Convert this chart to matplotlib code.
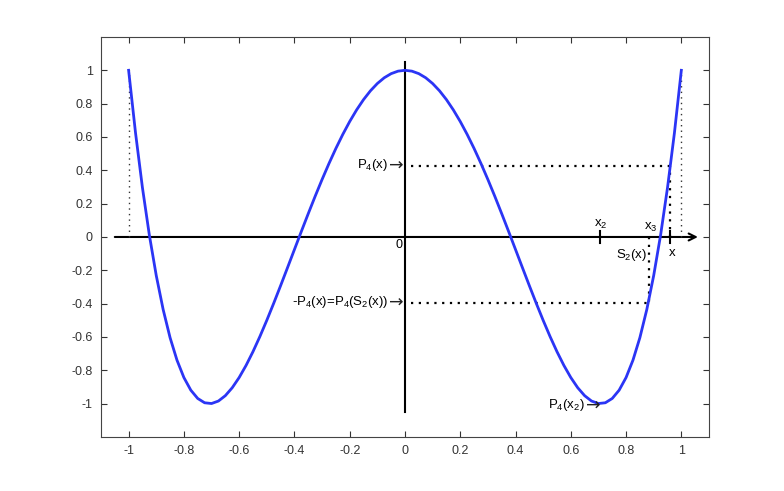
import numpy as np
import matplotlib
matplotlib.use('Agg')
import matplotlib.pyplot as plt

plt.rcParams['font.family'] = ['Liberation Sans', 'DejaVu Sans']
plt.rcParams['mathtext.default'] = 'regular'

# curve P4(x), x from -1 to 1 step 0.025
x_vals = np.linspace(-1, 1, 81)
p4_vals = [
    1.0, 0.6245, 0.2961, 0.0118, -0.2312, -0.4355, -0.6040, -0.7390, -0.8432,
    -0.9190, -0.9688, -0.9947, -0.9992, -0.9843, -0.9520, -0.9043, -0.8432,
    -0.7705, -0.6880, -0.5972, -0.5, -0.3977, -0.2920, -0.1840, -0.0752,
    0.0332, 0.1400, 0.2443, 0.3448, 0.4408, 0.5313, 0.6155, 0.6928, 0.7625,
    0.8241, 0.8770, 0.9208, 0.9553, 0.9800, 0.9950, 1.0,
    0.9950, 0.9800, 0.9553, 0.9208, 0.8770, 0.8241, 0.7625, 0.6928, 0.6155,
    0.5313, 0.4408, 0.3448, 0.2443, 0.1400, 0.0332, -0.0752, -0.1840, -0.2920,
    -0.3977, -0.5, -0.5972, -0.6880, -0.7705, -0.8432, -0.9043, -0.9520,
    -0.9843, -0.9992, -0.9947, -0.9688, -0.9190, -0.8432, -0.7390, -0.6040,
    -0.4355, -0.2312, 0.0118, 0.2961, 0.6245, 1.0,
]

# marked points
x_pt = 0.96
p4_at_x = 0.425
s2_pt = 0.882
p4_at_s2 = -0.395
x2_pt = 0.707
x3_pt = 0.891

ticks = [-1, -0.8, -0.6, -0.4, -0.2, 0, 0.2, 0.4, 0.6, 0.8, 1]
tick_labels = ['-1', '-0.8', '-0.6', '-0.4', '-0.2', '0', '0.2', '0.4', '0.6', '0.8', '1']

fig = plt.figure(figsize=(7.84, 4.91), dpi=100)
ax = fig.add_axes([0.1288, 0.110, 0.7755, 0.8147])

# axes lines
ax.plot([0, 0], [-1.05, 1.05], color='black', lw=1.5, zorder=2)
ax.annotate('', xy=(1.06, 0), xytext=(-1.05, 0),
            arrowprops=dict(arrowstyle='->,head_length=0.5,head_width=0.25', lw=1.5, color='black',
                            shrinkA=0, shrinkB=0), zorder=2)
for xt in [x2_pt, x_pt]:
    ax.plot([xt, xt], [-0.035, 0.035], color='black', lw=1.5, zorder=2)

# dotted guides
dot_thin = dict(color='#333333', lw=1.0, linestyle=(0, (1, 3)))
dot_thick = dict(color='black', lw=1.6, linestyle=(0, (1, 2.5)))
ax.plot([-1, -1], [0, 1], **dot_thin)
ax.plot([1, 1], [0, 1], **dot_thin)
ax.plot([0.02, x_pt], [p4_at_x, p4_at_x], **dot_thick)
ax.plot([x_pt, x_pt], [0, p4_at_x], **dot_thick)
ax.plot([0.02, s2_pt], [p4_at_s2, p4_at_s2], **dot_thick)
ax.plot([s2_pt, s2_pt], [0, p4_at_s2], **dot_thick)

# curve
ax.plot(x_vals, p4_vals, color='#2B35F5', lw=2.0, zorder=3)

# labels
fs = 9
lfs = 9.5


def arrow_label(x, y, label):
    # arrow glyph ending at (x, y), label to its left
    ax.text(x, y, '\u2192', ha='right', va='center', fontsize=12.5,
            family='DejaVu Sans', color='#222222')
    ax.annotate(label, xy=(x, y), xytext=(-11, 0.5), textcoords='offset points',
                ha='right', va='center', fontsize=lfs)


arrow_label(-0.005, p4_at_x, 'P$_4$(x)')
arrow_label(-0.005, p4_at_s2, '-P$_4$(x)=P$_4$(S$_2$(x))')
arrow_label(x2_pt, -1.015, 'P$_4$(x$_2$)')
ax.text(-0.022, -0.015, '0', ha='center', va='top', fontsize=fs)
ax.text(x2_pt, 0.035, 'x$_2$', ha='center', va='bottom', fontsize=lfs)
ax.text(x3_pt, 0.015, 'x$_3$', ha='center', va='bottom', fontsize=lfs)
ax.text(s2_pt - 0.005, -0.06, 'S$_2$(x)', ha='right', va='top', fontsize=lfs)
ax.text(x_pt + 0.005, -0.06, 'x', ha='center', va='top', fontsize=lfs)

ax.set_xlim(-1.1, 1.1)
ax.set_ylim(-1.2, 1.2)
ax.set_xticks(ticks)
ax.set_xticklabels(tick_labels)
ax.set_yticks(ticks)
ax.set_yticklabels(tick_labels)
ax.tick_params(direction='in', top=True, right=True, length=4, width=0.8,
               labelsize=fs, colors='#333333', pad=6)
for sp in ax.spines.values():
    sp.set_color('#444444')
    sp.set_linewidth(0.8)

fig.savefig('out.png', dpi=100)
